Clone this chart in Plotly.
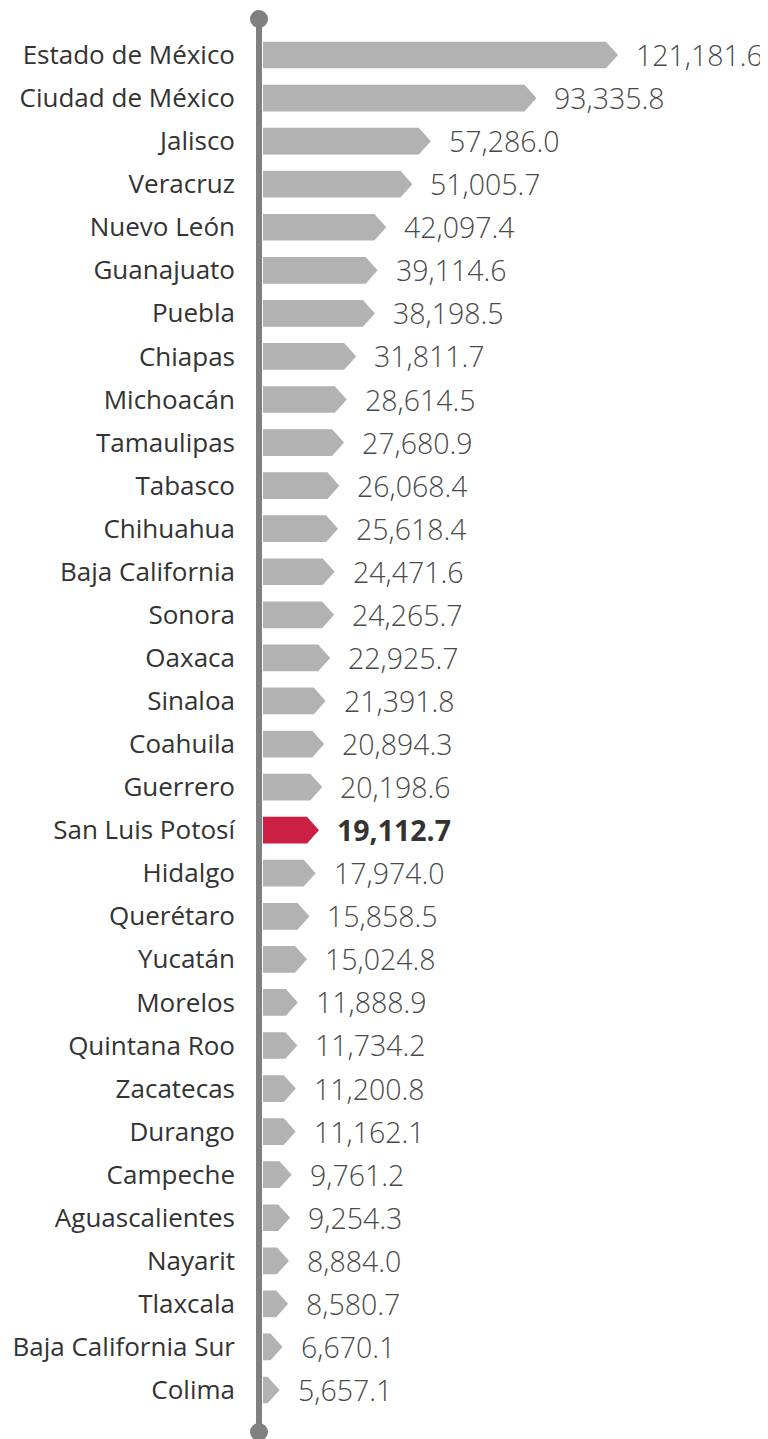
import plotly.graph_objects as go

states = ["Estado de México", "Ciudad de México", "Jalisco", "Veracruz", "Nuevo León",
          "Guanajuato", "Puebla", "Chiapas", "Michoacán", "Tamaulipas", "Tabasco",
          "Chihuahua", "Baja California", "Sonora", "Oaxaca", "Sinaloa", "Coahuila",
          "Guerrero", "San Luis Potosí", "Hidalgo", "Querétaro", "Yucatán", "Morelos",
          "Quintana Roo", "Zacatecas", "Durango", "Campeche", "Aguascalientes", "Nayarit",
          "Tlaxcala", "Baja California Sur", "Colima"]
values = [121181.6, 93335.8, 57286.0, 51005.7, 42097.4, 39114.6, 38198.5, 31811.7,
          28614.5, 27680.9, 26068.4, 25618.4, 24471.6, 24265.7, 22925.7, 21391.8,
          20894.3, 20198.6, 19112.7, 17974.0, 15858.5, 15024.8, 11888.9, 11734.2,
          11200.8, 11162.1, 9761.2, 9254.3, 8884.0, 8580.7, 6670.1, 5657.1]
highlight = "San Luis Potosí"

# the page body adds an 8px margin; compensate so the picture lands at the window origin
PAD = 8
W, H = 768 - PAD, 1439 - PAD
ML, MR, MT = 263 - PAD, 0, 19 - PAD
MB = H - (1432 - PAD)
plot_w = W - ML - MR
x_max = plot_w / (355 / 121181.6)
px_per_unit = plot_w / x_max
head = 12 / px_per_unit
half = 0.31

gray = "#b2b2b2"
red = "#cc1f44"

def poly(idx_list):
    xs, ys = [], []
    for i in idx_list:
        v = values[i]
        xe = max(v - head, 0)
        xs += [0, xe, v, xe, 0, 0, None]
        ys += [i - half, i - half, i, i + half, i + half, i - half, None]
    return xs, ys

hi = [i for i, s in enumerate(states) if s == highlight]
lo = [i for i, s in enumerate(states) if s != highlight]

fig = go.Figure()
for idxs, col in ((lo, gray), (hi, red)):
    xs, ys = poly(idxs)
    fig.add_trace(go.Scatter(x=xs, y=ys, mode="lines", fill="toself",
                             fillcolor=col, line=dict(width=0, color=col),
                             hoverinfo="skip", showlegend=False))

for i, (s, v) in enumerate(zip(states, values)):
    bold = s == highlight
    fig.add_annotation(x=v, y=i, xref="x", yref="y", text=f"{v:,.1f}",
                       showarrow=False, xanchor="left", yanchor="middle", xshift=16,
                       font=dict(family="Open Sans", size=28.5,
                                 color="#333333" if bold else "#4a4a4a",
                                 weight=700 if bold else 300))

# vertical axis line with end dots
axc = "#808080"
fig.add_shape(type="line", xref="paper", yref="paper", xsizemode="pixel", xanchor=0,
              x0=-4, x1=-4, y0=0, y1=1, line=dict(color=axc, width=6), layer="above")
for yy in (0, 1):
    fig.add_shape(type="circle", xref="paper", yref="paper", xsizemode="pixel",
                  ysizemode="pixel", xanchor=0, yanchor=yy, x0=-13, x1=5, y0=-9, y1=9,
                  fillcolor=axc, line=dict(width=0), layer="above")

row_px = 43.06
y_top = -(55 - 19) / row_px
y_bot = (len(states) - 1) + (1432 - 1390) / row_px

fig.update_layout(
    width=W, height=H, margin=dict(l=ML, r=MR, t=MT, b=MB, autoexpand=False),
    plot_bgcolor="white", paper_bgcolor="white",
    xaxis=dict(range=[0, x_max], visible=False, fixedrange=True),
    yaxis=dict(range=[y_bot, y_top], tickmode="array", tickvals=list(range(len(states))),
               ticktext=states, showgrid=False, zeroline=False, showline=False,
               ticks="", ticklabelstandoff=27, automargin=False,
               tickfont=dict(family="Open Sans", size=26, color="#333333")),
)
fig.write_html("out.html")
